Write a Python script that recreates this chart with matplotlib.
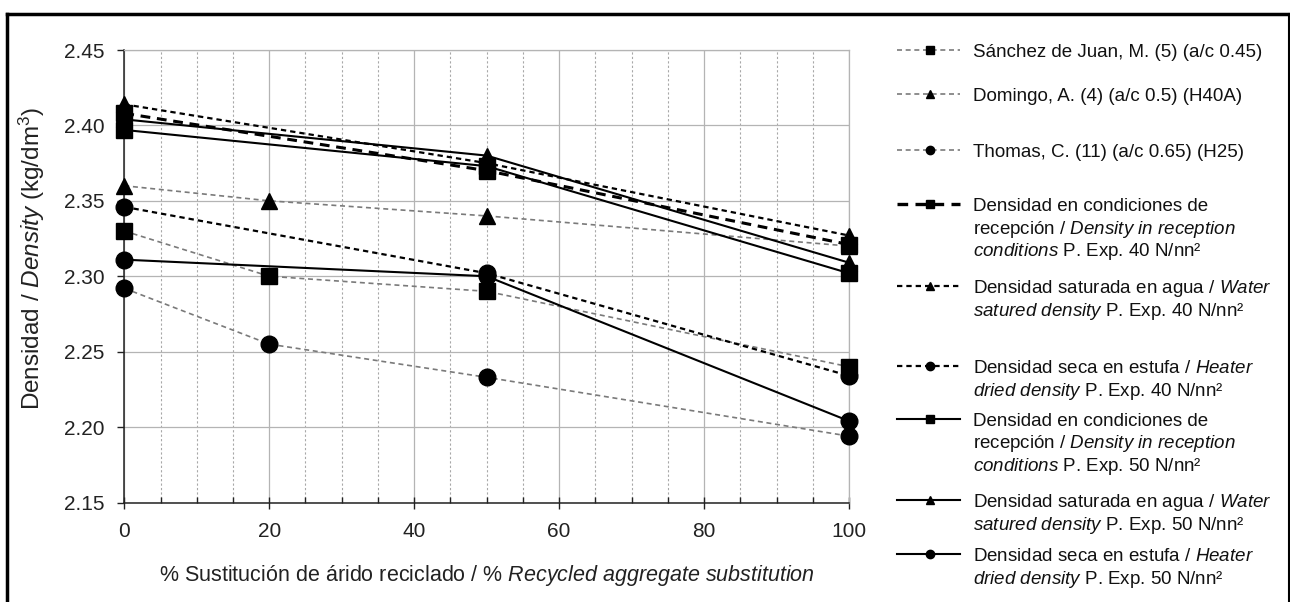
import matplotlib
matplotlib.use("Agg")
import matplotlib.pyplot as plt
from matplotlib.lines import Line2D
from matplotlib.ticker import MultipleLocator

plt.rcParams['font.family'] = ['Liberation Sans', 'DejaVu Sans']
plt.rcParams['mathtext.fontset'] = 'custom'
plt.rcParams['mathtext.rm'] = 'Liberation Sans'
plt.rcParams['mathtext.it'] = 'Liberation Sans:italic'
plt.rcParams['mathtext.bf'] = 'Liberation Sans:bold'

# ---------------- data ----------------
x_ref = [0, 20, 50, 100]
sanchez = [2.330, 2.300, 2.290, 2.240]
domingo = [2.360, 2.350, 2.340, 2.320]
thomas = [2.292, 2.255, 2.233, 2.194]

x_exp = [0, 50, 100]
p40_rec = [2.408, 2.370, 2.321]
p40_sat = [2.414, 2.375, 2.327]
p40_dry = [2.346, 2.302, 2.234]
p50_rec = [2.397, 2.373, 2.302]
p50_sat = [2.404, 2.380, 2.309]
p50_dry = [2.311, 2.300, 2.204]

x_ticks = [0, 20, 40, 60, 80, 100]
y_ticks = [2.15, 2.20, 2.25, 2.30, 2.35, 2.40, 2.45]

legend_labels = [
    ["Sánchez de Juan, M. (5) (a/c 0.45)"],
    ["Domingo, A. (4) (a/c 0.5) (H40A)"],
    ["Thomas, C. (11) (a/c 0.65) (H25)"],
    ["Densidad en condiciones de",
     r"recepción / $\mathit{Density\ in\ reception}$",
     r"$\mathit{conditions}$ P. Exp. 40 N/nn²"],
    [r"Densidad saturada en agua / $\mathit{Water}$",
     r"$\mathit{satured\ density}$ P. Exp. 40 N/nn²"],
    [r"Densidad seca en estufa / $\mathit{Heater}$",
     r"$\mathit{dried\ density}$ P. Exp. 40 N/nn²"],
    ["Densidad en condiciones de",
     r"recepción / $\mathit{Density\ in\ reception}$",
     r"$\mathit{conditions}$ P. Exp. 50 N/nn²"],
    [r"Densidad saturada en agua / $\mathit{Water}$",
     r"$\mathit{satured\ density}$ P. Exp. 50 N/nn²"],
    [r"Densidad seca en estufa / $\mathit{Heater}$",
     r"$\mathit{dried\ density}$ P. Exp. 50 N/nn²"],
]

# ---------------- styles ----------------
GRAY = '#7a7a7a'
ref_style = dict(color=GRAY, lw=1.2, dashes=(3, 2.2))
styles = [
    (x_ref, sanchez, 's', 11, ref_style),
    (x_ref, domingo, '^', 12, ref_style),
    (x_ref, thomas, 'o', 12, ref_style),
    (x_exp, p40_rec, 's', 11, dict(color='black', lw=2.2, dashes=(3.2, 2.2))),
    (x_exp, p40_sat, '^', 12, dict(color='black', lw=1.6, dashes=(2.4, 1.8))),
    (x_exp, p40_dry, 'o', 12, dict(color='black', lw=1.6, dashes=(2.4, 1.8))),
    (x_exp, p50_rec, 's', 11, dict(color='black', lw=1.5, linestyle='-')),
    (x_exp, p50_sat, '^', 12, dict(color='black', lw=1.5, linestyle='-')),
    (x_exp, p50_dry, 'o', 12, dict(color='black', lw=1.5, linestyle='-')),
]

W, H = 1290, 602
fig = plt.figure(figsize=(W / 100, H / 100), dpi=100)
fig.patch.set_facecolor('white')

ax_l, ax_r, ax_t, ax_b = 124.3, 849.0, 50.0, 502.5
ax = fig.add_axes([ax_l / W, 1 - ax_b / H, (ax_r - ax_l) / W, (ax_b - ax_t) / H])

for xs, ys, mk, ms, st in styles:
    ax.plot(xs, ys, marker=mk, markersize=ms, markerfacecolor='black',
            markeredgecolor='black', zorder=3, clip_on=False, **st)

ax.set_xlim(0, 100)
ax.set_ylim(2.15, 2.45)
ax.set_xticks(x_ticks)
ax.set_yticks(y_ticks)
ax.set_yticklabels([f"{v:.2f}" for v in y_ticks])
ax.xaxis.set_minor_locator(MultipleLocator(5))

ax.grid(which='major', axis='both', color='#b4b4b4', lw=0.9, linestyle='-', zorder=0)
ax.grid(which='minor', axis='x', color='#a8a8a8', lw=0.8, linestyle=(0, (2, 2)), zorder=0)
ax.set_axisbelow(True)

for s in ['top', 'right']:
    ax.spines[s].set_color('#b4b4b4')
    ax.spines[s].set_linewidth(0.9)
for s in ['left', 'bottom']:
    ax.spines[s].set_color('#222222')
    ax.spines[s].set_linewidth(1.1)

ax.tick_params(axis='y', which='major', direction='out', length=5, width=1,
               pad=9, labelsize=15, colors='#222222')
ax.tick_params(axis='x', which='major', direction='inout', length=8, width=1,
               pad=10, labelsize=15, colors='#222222')
ax.tick_params(axis='x', which='minor', direction='in', length=4, width=1,
               colors='#222222')

ax.set_xlabel(r"% Sustitución de árido reciclado / $\mathit{\%\ Recycled\ aggregate\ substitution}$",
              fontsize=15.5, labelpad=16, color='#222222')
ax.set_ylabel(r"Densidad / $\mathit{Density}$ (kg/dm$^3$)", fontsize=17.5,
              color='#222222')
ax.yaxis.set_label_coords((47 - ax_l) / (ax_r - ax_l), (ax_b - 258) / (ax_b - ax_t))

# ---------------- legend (manual) ----------------
leg_y = [[50], [94], [150], [204, 226.5, 249], [286, 308.5], [366, 388.5],
         [419, 441.5, 464], [500, 522.5], [554, 576.5]]
lx0, lxm, lx1, ltx = 897, 930, 960, 973

def fx(px):
    return px / W

def fy(py):
    return 1 - py / H

for (xs, ys, mk, ms, st), ylines, labels in zip(styles, leg_y, legend_labels):
    y0 = ylines[0]
    st2 = dict(st)
    if st2.get('lw', 1) > 2:
        st2['lw'] = 2.4
    fig.add_artist(Line2D([fx(lx0), fx(lxm), fx(lx1)], [fy(y0)] * 3,
                          transform=fig.transFigure, marker=mk,
                          markersize=6, markevery=[1],
                          markerfacecolor='black', markeredgecolor='black', **st2))
    for yl, txt in zip(ylines, labels):
        fig.text(fx(ltx), fy(yl + 7), txt, fontsize=13.5, va='baseline',
                 ha='left', color='#111111')

# ---------------- frame ----------------
fig.add_artist(Line2D([fx(7), fx(7)], [fy(14), 0], transform=fig.transFigure,
                      color='black', lw=2.5))
fig.add_artist(Line2D([fx(7), fx(1289)], [fy(14), fy(14)], transform=fig.transFigure,
                      color='black', lw=2.5))
fig.add_artist(Line2D([fx(1288.5), fx(1288.5)], [fy(14), 0], transform=fig.transFigure,
                      color='black', lw=1.5))

fig.savefig("out.png", dpi=100, facecolor='white')
